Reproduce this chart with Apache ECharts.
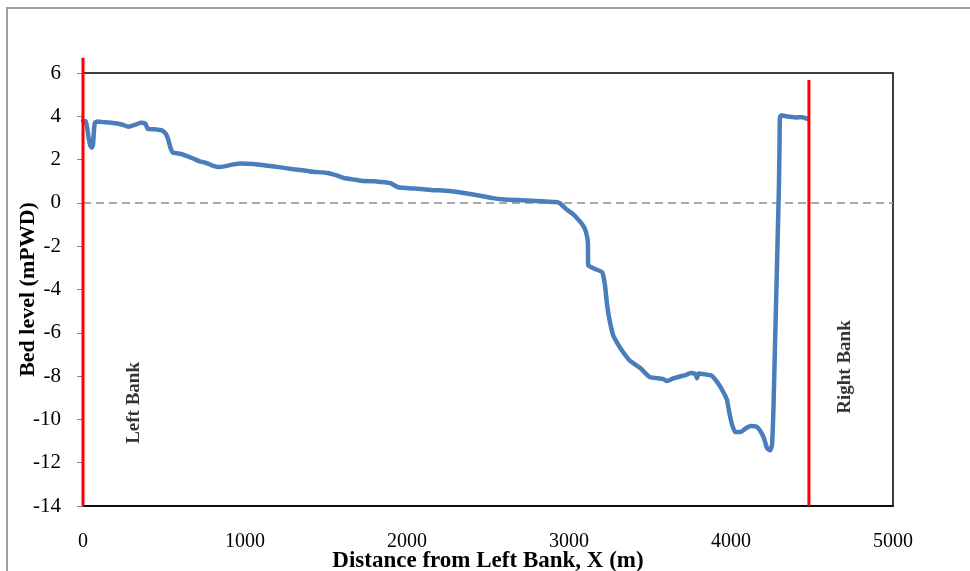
<!DOCTYPE html>
<html>
<head>
<meta charset="utf-8">
<script src="https://cdn.jsdelivr.net/npm/echarts@6/dist/echarts.min.js"></script>
<style>
html,body{margin:0;padding:0;background:#fff;}
#chart{width:970px;height:571px;}
</style>
</head>
<body>
<div id="chart"></div>
<script>
// Bed profile: distance from left bank (m) and bed level (mPWD)
const distance = [0,15,25,35,45,55,62,68,75,90,140,200,240,280,320,355,385,400,440,490,510,525,540,555,590,630,680,720,760,800,835,880,930,970,1050,1140,1220,1300,1380,1420,1510,1560,1610,1680,1730,1800,1860,1900,1945,2050,2150,2265,2330,2390,2460,2530,2600,2680,2740,2800,2860,2915,2940,2990,3030,3070,3095,3110,3117,3118,3160,3205,3222,3235,3250,3272,3300,3330,3377,3440,3470,3500,3580,3605,3640,3685,3720,3750,3780,3790,3800,3840,3880,3915,3950,3975,3990,4005,4025,4060,4090,4120,4160,4190,4205,4222,4241,4253,4262,4272,4282,4290,4296,4300,4302,4312,4340,4400,4440,4475];
const bedLevel = [3.8,3.78,3.5,3.0,2.65,2.55,2.7,3.4,3.72,3.76,3.72,3.68,3.62,3.52,3.6,3.7,3.66,3.42,3.4,3.34,3.2,2.95,2.55,2.32,2.28,2.2,2.05,1.92,1.85,1.72,1.66,1.7,1.78,1.82,1.8,1.72,1.64,1.55,1.48,1.44,1.38,1.28,1.15,1.07,1.01,1.0,0.95,0.9,0.72,0.66,0.6,0.55,0.48,0.41,0.32,0.22,0.16,0.13,0.11,0.09,0.06,0.04,0.0,-0.33,-0.55,-0.88,-1.15,-1.5,-1.9,-2.87,-3.05,-3.2,-3.8,-4.7,-5.4,-6.1,-6.5,-6.85,-7.3,-7.63,-7.85,-8.05,-8.13,-8.23,-8.12,-8.02,-7.95,-7.86,-7.9,-8.1,-7.88,-7.92,-7.98,-8.28,-8.7,-9.1,-9.7,-10.2,-10.58,-10.58,-10.42,-10.3,-10.35,-10.65,-10.9,-11.32,-11.43,-11.2,-9.5,-6.47,-3.5,-1.0,0.8,3.0,3.95,4.05,4.0,3.95,3.96,3.88];

// Bank limit lines (x position, y bottom, y top)
const leftBankX = 0, leftBankTop = 6.7;
const rightBankX = 4481, rightBankTop = 5.68;
const bankBottom = -14;
// Reference (zero) level
const zeroLevel = 0;
// Annotation texts and their anchor in data units
const bankLabels = ['Left Bank', 'Right Bank'];
const bankLabelX = [315, 4704];
const bankLabelY = [-9.24, -7.58];

const xTicks = {min: 0, max: 5000, interval: 1000};
const yTicks = {min: -14, max: 6, interval: 2};

const serif = '"Liberation Serif","Times New Roman",serif';
const profile = distance.map((d, i) => [d, bedLevel[i]]);

const chart = echarts.init(document.getElementById('chart'));
chart.setOption({
  animation: false,
  backgroundColor: '#fff',
  graphic: [{
    type: 'rect', silent: true, z: -1,
    shape: {x: 7, y: 8, width: 1000, height: 600},
    style: {fill: 'none', stroke: '#a0a0a0', lineWidth: 2}
  }],
  grid: {left: 83, right: 77, top: 73, bottom: 65, containLabel: false, outerBoundsMode: 'none',
    show: true, borderColor: '#000', borderWidth: 1.5, backgroundColor: 'transparent'},
  xAxis: {
    type: 'value', min: xTicks.min, max: xTicks.max, interval: xTicks.interval,
    name: 'Distance from Left Bank, X (m)', nameLocation: 'middle', nameGap: 44, nameMoveOverlap: false,
    nameTextStyle: {fontFamily: serif, fontWeight: 'bold', fontSize: 23, color: '#000'},
    axisLine: {show: true, onZero: false, lineStyle: {color: '#000', width: 1.5}},
    axisTick: {show: false},
    axisLabel: {margin: 26, fontFamily: serif, fontSize: 20, color: '#000', formatter: v => String(v)},
    splitLine: {show: false}
  },
  yAxis: {
    type: 'value', min: yTicks.min, max: yTicks.max, interval: yTicks.interval,
    name: 'Bed level (mPWD)', nameLocation: 'middle', nameGap: 44, nameMoveOverlap: false,
    nameTextStyle: {fontFamily: serif, fontWeight: 'bold', fontSize: 22, color: '#000'},
    axisLine: {show: true, onZero: false, lineStyle: {color: '#000', width: 1.5}},
    axisTick: {show: true, inside: false, length: 6, lineStyle: {color: '#888'}},
    axisLabel: {margin: 22, fontFamily: serif, fontSize: 21, color: '#000', formatter: v => String(v)},
    splitLine: {show: false}
  },
  series: [
    {
      type: 'line', name: 'zero', data: [[xTicks.min, zeroLevel], [xTicks.max, zeroLevel]],
      symbol: 'none', lineStyle: {color: '#8c8c8c', width: 1.5, type: [8, 5]}, z: 1, silent: true
    },
    {
      type: 'line', name: 'Bed', data: profile, symbol: 'none', smooth: 0.15,
      lineStyle: {color: '#4a7ebb', width: 4.5, join: 'round', cap: 'round'}, z: 3
    },
    {
      type: 'line', name: 'LB', data: [[leftBankX, bankBottom], [leftBankX, leftBankTop]],
      symbol: 'none', clip: false, lineStyle: {color: '#ff0000', width: 3}, z: 5
    },
    {
      type: 'line', name: 'RB', data: [[rightBankX, bankBottom], [rightBankX, rightBankTop]],
      symbol: 'none', clip: false, lineStyle: {color: '#ff0000', width: 3}, z: 5
    },
    {
      type: 'scatter', name: 'labels', symbolSize: 0, silent: true, z: 6,
      data: bankLabels.map((t, i) => ({value: [bankLabelX[i], bankLabelY[i]], name: t})),
      label: {
        show: true, position: 'inside', rotate: 90, formatter: p => p.name,
        fontFamily: serif, fontWeight: 'bold', fontSize: 19, color: '#000'
      }
    }
  ]
});
</script>
</body>
</html>
